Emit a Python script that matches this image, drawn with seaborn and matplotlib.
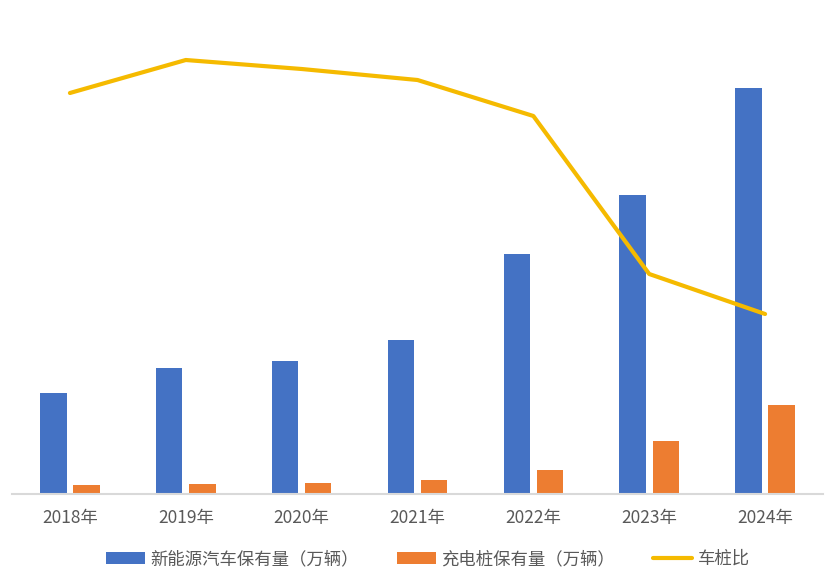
import numpy as np
import pandas as pd
import matplotlib
matplotlib.use("Agg")
import matplotlib.pyplot as plt
import seaborn as sns
from matplotlib.patches import Patch
from matplotlib.lines import Line2D

years = ["2018年", "2019年", "2020年", "2021年", "2022年", "2023年", "2024年"]
nev = [781, 974, 1028, 1190, 1855, 2311, 3140]
piles = [70, 77, 85, 108, 186, 410, 688]
ratio = [4.01, 4.34, 4.25, 4.14, 3.78, 2.20, 1.80]

s_nev = "新能源汽车保有量（万辆）"
s_pile = "充电桩保有量（万辆）"
s_ratio = "车桩比"

sns.set_theme(style="white")
plt.rcParams['font.family'] = ['Noto Sans CJK SC', 'DejaVu Sans']

df = pd.DataFrame({
    "year": years * 2,
    "value": nev + piles,
    "series": [s_nev] * len(years) + [s_pile] * len(years),
})

c_blue = "#4472C4"
c_orange = "#ED7D31"
c_gold = "#F5BA00"
c_text = "#595959"

fig = plt.figure(figsize=(8.31, 5.79), dpi=100)
ax = fig.add_axes([12 / 831, (579 - 494) / 579, (823 - 12) / 831, (494 - 20) / 579])

sns.barplot(data=df, x="year", y="value", hue="series", order=years,
            hue_order=[s_nev, s_pile], palette=[c_blue, c_orange],
            width=0.57, gap=0.2, saturation=1, linewidth=0, ax=ax, legend=False)
ax.set_xlim(-0.5, 6.5)
ax.set_ylim(0, 3664)
ax.set_xlabel("")
ax.set_ylabel("")
ax.set_yticks([])
for sp in ["top", "left", "right"]:
    ax.spines[sp].set_visible(False)
ax.spines["bottom"].set_color("#D9D9D9")
ax.spines["bottom"].set_linewidth(1.5)
ax.tick_params(axis="x", length=0, pad=11, labelsize=12.5, labelcolor=c_text)

ax2 = ax.twinx()
sns.lineplot(x=np.arange(len(years)), y=ratio, color=c_gold, linewidth=3,
             ax=ax2, solid_capstyle="round")
ax2.set_ylim(0, 4.74)
ax2.set_xlim(-0.5, 6.5)
ax2.set_yticks([])
for sp in ["top", "left", "right", "bottom"]:
    ax2.spines[sp].set_visible(False)

handles = [Patch(facecolor=c_blue, edgecolor="none"),
           Patch(facecolor=c_orange, edgecolor="none"),
           Line2D([0], [0], color=c_gold, linewidth=3, solid_capstyle="round")]
leg = fig.legend(handles, [s_nev, s_pile, s_ratio], loc="center",
                 bbox_to_anchor=(428 / 831, 1 - 559 / 579), ncol=3, frameon=False,
                 fontsize=12.5, handlelength=2.25, handleheight=0.62,
                 handletextpad=0.3, columnspacing=2.2)
for t in leg.get_texts():
    t.set_color(c_text)

fig.savefig("out.png", dpi=100)
